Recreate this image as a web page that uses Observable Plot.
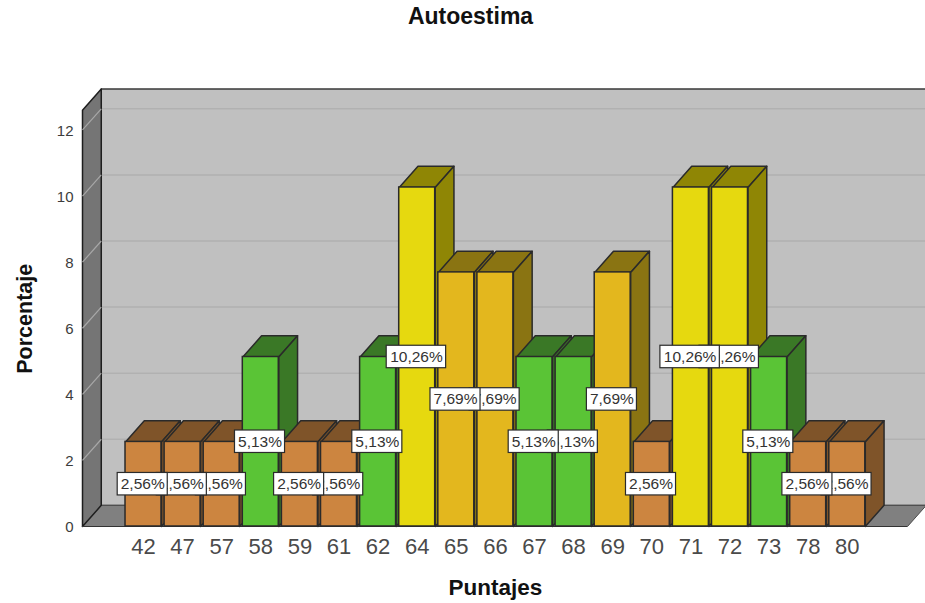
<!DOCTYPE html>
<html>
<head>
<meta charset="utf-8">
<script src="https://cdn.jsdelivr.net/npm/d3@7"></script>
<script src="https://cdn.jsdelivr.net/npm/@observablehq/plot@0.6"></script>
<style>
  html, body { margin: 0; padding: 0; background: #fff; }
  #title { font: bold 23px "Liberation Sans", Arial, sans-serif; height: 32px; line-height: 32px; width: 925px; color: #111; text-align: center; box-sizing: border-box; position: relative; left: 8px; top: 0; overflow: visible; }
  svg { display: block; }
</style>
</head>
<body>
<div id="title">Autoestima</div>
<div id="chart"></div>
<script>
const puntajes = ["42","47","57","58","59","61","62","64","65","66","67","68","69","70","71","72","73","78","80"];
const porcentajes = [2.56,2.56,2.56,5.13,2.56,2.56,5.13,10.26,7.69,7.69,5.13,5.13,7.69,2.56,10.26,10.26,5.13,2.56,2.56];
const yTicks = [0,2,4,6,8,10,12];

const frontColor = {2.56: "#cc8540", 5.13: "#5ac436", 7.69: "#e3b71e", 10.26: "#e6d90f"};
const depthColor = {2.56: "#7f5429", 5.13: "#3a7826", 7.69: "#8a7412", 10.26: "#8f8605"};

const xMin = -1.56, xMax = 20;        // x scale, in category steps
const yTop = 12.6;                    // top of the front plane of the chart box
const ddx = 0.48, ddy = 0.64;         // oblique depth expressed in scale units
const half = 0.46;                    // half bar width in category steps
const edge = "#2a2a2a";

const bars = puntajes.map((p, i) => ({i, p, v: porcentajes[i]}));

const faces = [];
for (const b of bars) {
  const l = b.i - half, r = b.i + half, v = b.v;
  [[[l,v],[r,v],[r+ddx,v+ddy],[l+ddx,v+ddy]],
   [[r,0],[r+ddx,ddy],[r+ddx,v+ddy],[r,v]]].forEach((pts, k) =>
    pts.forEach(([x, y]) => faces.push({id: b.i + "-" + k, x, y, fill: depthColor[v]})));
}

const poly = (pts, fill, stroke, width) =>
  Plot.line(pts.map(([x, y]) => ({x, y})), {x: "x", y: "y", fill, stroke, strokeWidth: width, curve: "linear-closed"});

const labelMarks = bars.slice().reverse().flatMap(b => {
  const w = b.v >= 10 ? 0.76 : 0.64;
  const c = [{x: b.i - 0.02, y: b.v / 2, t: b.v.toFixed(2).replace(".", ",") + "%"}];
  return [
    Plot.rect(c, {x1: d => d.x - w, x2: d => d.x + w, y1: d => d.y - 0.34, y2: d => d.y + 0.34,
      fill: "#ffffff", stroke: "#2b2b2b", strokeWidth: 1.2}),
    Plot.text(c, {x: "x", y: "y", text: "t", fontSize: 15.5, fill: "#333"})
  ];
});

const plot = Plot.plot({
  width: 925,
  height: 571,
  marginLeft: 82, marginRight: 0,
  marginTop: 56.5, marginBottom: 77,
  style: {fontFamily: "'Liberation Sans', Arial, sans-serif", background: "transparent", overflow: "hidden"},
  x: {type: "linear", domain: [xMin, xMax], axis: null},
  y: {type: "linear", domain: [0, yTop + ddy], axis: null},
  marks: [
    // box: back wall, floor, left wall
    poly([[xMin+ddx,ddy],[xMax+1,ddy],[xMax+1,yTop+ddy],[xMin+ddx,yTop+ddy]], "#c0c0c0", "#3a3a3a", 1.3),
    Plot.ruleY(yTicks.slice(1), {y: d => d + ddy, x1: xMin + ddx, x2: xMax + 1, stroke: "#b1b1b1", strokeWidth: 1.5}),
    poly([[xMin,0],[19.54,0],[19.54+ddx,ddy],[xMin+ddx,ddy]], "#808080", "#4a4a4a", 1),
    poly([[xMin,0],[xMin+ddx,ddy],[xMin+ddx,yTop+ddy],[xMin,yTop]], "#757575", "#1e1e1e", 1.5),
    Plot.link(yTicks.slice(1), {x1: xMin, x2: xMin + ddx, y1: d => d, y2: d => d + ddy, stroke: "#a8a8a8", strokeWidth: 1.2}),
    Plot.ruleY([0], {x1: xMin, x2: 19.54, stroke: "#333", strokeWidth: 1.2}),
    // bars
    Plot.line(faces, {x: "x", y: "y", z: "id", fill: "fill", stroke: edge, strokeWidth: 1.5, curve: "linear-closed"}),
    Plot.rectY(bars, {x1: d => d.i - half, x2: d => d.i + half, y1: 0, y2: "v",
      fill: d => frontColor[d.v], stroke: edge, strokeWidth: 1.5}),
    ...labelMarks,
    // axes
    Plot.axisY({ticks: yTicks, tickSize: 0, tickPadding: 9, fontSize: 15, label: null, color: "#3c3c3c", anchor: "left", dy: 1}),
    Plot.axisX({ticks: d3.range(puntajes.length), tickFormat: i => puntajes[i], tickSize: 0, tickPadding: 12,
      fontSize: 22, label: null, color: "#4a4a4a", anchor: "bottom"}),
    Plot.text(["Porcentaje"], {frameAnchor: "left", textAnchor: "middle", dx: -57, dy: 11, rotate: -90, fontSize: 21.5, fontWeight: "bold", fill: "#111"}),
    Plot.text(["Puntajes"], {x: () => 9, frameAnchor: "bottom", dy: 68, fontSize: 22.5, fontWeight: "bold", fill: "#111"})
  ]
});
document.getElementById("chart").appendChild(plot);
</script>
</body>
</html>
